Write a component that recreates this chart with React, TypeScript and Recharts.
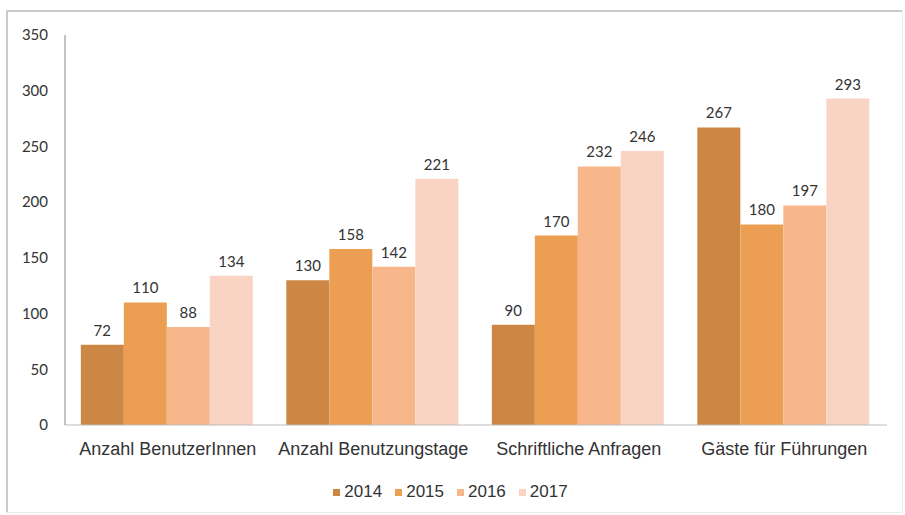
import { BarChart, Bar, XAxis, YAxis, Legend, LabelList } from "recharts";

const categories = [
  "Anzahl BenutzerInnen",
  "Anzahl Benutzungstage",
  "Schriftliche Anfragen",
  "Gäste für Führungen",
];
const years = ["2014", "2015", "2016", "2017"];
const values2014 = [72, 130, 90, 267];
const values2015 = [110, 158, 170, 180];
const values2016 = [88, 142, 232, 197];
const values2017 = [134, 221, 246, 293];
const yTicks = [0, 50, 100, 150, 200, 250, 300, 350];

const COLORS = ["#CC8744", "#EC9F52", "#F8B78A", "#F9D4C2"];
const INK = "#333333";
const NUM_FONT = "Lato, 'Open Sans', sans-serif";
const TEXT_FONT = "'Liberation Sans', Arial, sans-serif";

const seriesValues = [values2014, values2015, values2016, values2017];

const data = categories.map((name, i) => {
  const row: Record<string, string | number> = { name };
  years.forEach((y, k) => {
    row["y" + y] = seriesValues[k][i];
  });
  return row;
});

function YearLegend() {
  return (
    <div
      style={{
        height: 30,
        display: "flex",
        justifyContent: "center",
        alignItems: "center",
        paddingLeft: 6,
        fontFamily: TEXT_FONT,
        fontSize: 17,
        color: INK,
      }}
    >
      {years.map((y, k) => (
        <span
          key={y}
          style={{ display: "inline-flex", alignItems: "center", marginRight: k < years.length - 1 ? 13 : 0 }}
        >
          <span
            style={{ width: 7, height: 7, background: COLORS[k], display: "inline-block", marginRight: 4 }}
          />
          {y}
        </span>
      ))}
    </div>
  );
}

export default function App() {
  return (
    <div
      style={{
        position: "absolute",
        left: 6,
        top: 10,
        width: 894,
        height: 500,
        borderTop: "2px solid #c9c9c9",
        borderLeft: "2px solid #c9c9c9",
        borderRight: "1px solid #ececec",
        borderBottom: "1px solid #ececec",
        borderRadius: 2,
        background: "#fff",
      }}
    >
      <BarChart
        width={894}
        height={500}
        data={data}
        margin={{ top: 23, right: 15, left: 0, bottom: 5 }}
        barCategoryGap="7.7%"
        barGap={0}
      >
        <XAxis
          dataKey="name"
          height={52}
          tickLine={false}
          axisLine={{ stroke: "#bbbbbb" }}
          tickMargin={11}
          tick={{ fill: INK, fontSize: 18, fontFamily: TEXT_FONT }}
          interval={0}
        />
        <YAxis
          width={57}
          domain={[0, 350]}
          ticks={yTicks}
          tickLine={false}
          axisLine={{ stroke: "#888888" }}
          tickMargin={11}
          tick={{ fill: INK, fontSize: 15, fontFamily: NUM_FONT }}
        />
        <Legend verticalAlign="bottom" content={<YearLegend />} />
        {years.map((y, k) => (
          <Bar key={y} dataKey={"y" + y} name={y} fill={COLORS[k]} isAnimationActive={false}>
            <LabelList
              dataKey={"y" + y}
              position="top"
              offset={9}
              style={{ fill: INK, fontSize: 15, fontFamily: NUM_FONT }}
            />
          </Bar>
        ))}
      </BarChart>
    </div>
  );
}
